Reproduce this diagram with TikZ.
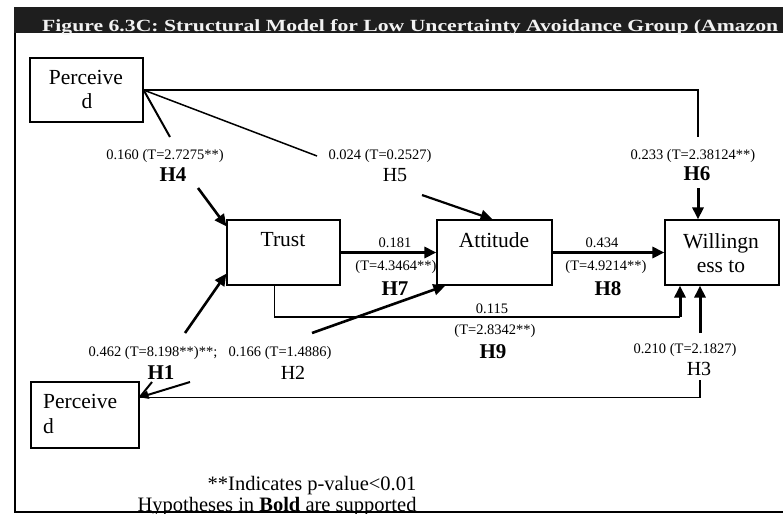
\documentclass[tikz,border=0pt]{standalone}
\usepackage{fontspec}
\setmainfont{Liberation Serif}
\usetikzlibrary{arrows.meta,calc}
\definecolor{barfill}{HTML}{1E1E1E}
\definecolor{bartext}{HTML}{F2F2F2}
\begin{document}
\begin{tikzpicture}[x=1pt,y=-1pt,
  construct/.style={draw,line width=1.2pt,inner sep=0pt},
  boxtext/.style={font=\fontsize{21.5}{24}\selectfont,inner sep=0pt,anchor=base},
  coef/.style={font=\fontsize{14.5}{16}\selectfont,inner sep=0pt,anchor=base},
  hypbold/.style={font=\fontsize{21}{24}\selectfont\bfseries,inner sep=0pt,anchor=base},
  hyp/.style={font=\fontsize{20}{24}\selectfont,inner sep=0pt,anchor=base},
  note/.style={font=\fontsize{20.5}{24}\selectfont,inner sep=0pt,anchor=base},
  link/.style={line width=1.5pt},
  arr/.style={line width=2.6pt,-{Triangle[length=12pt,width=11pt]}},
]
\useasboundingbox (0,0) rectangle (783,517);

% title bar and frame
\fill[barfill] (14,7) rectangle (783,33);
\node[anchor=base west,inner sep=0pt,text=bartext] (title) at (42,31)
  {\resizebox{736pt}{12pt}{\bfseries Figure 6.3C: Structural Model for Low Uncertainty Avoidance Group (Amazon}};
\draw[line width=1.3pt] (15,33) -- (15,512) -- (783,512);

% constructs
\node[construct,minimum width=113pt,minimum height=64pt] (perc1) at (86.5,90) {};
\node[construct,minimum width=108pt,minimum height=66pt] (perc2) at (85,415) {};
\node[construct,minimum width=113pt,minimum height=65pt] (trust) at (283.5,252.5) {};
\node[construct,minimum width=115pt,minimum height=65pt] (att) at (494.5,252.5) {};
\node[construct,minimum width=114pt,minimum height=65pt] (will) at (722,252.5) {};

\node[boxtext] (perc1a) at (86,84) {Perceive};
\node[boxtext] (perc1b) at (87,108) {d};
\node[boxtext,anchor=base west] (perc2a) at (43,408) {Perceive};
\node[boxtext,anchor=base west] (perc2b) at (43,433) {d};
\node[boxtext] (trustT) at (283,246) {Trust};
\node[boxtext] (attT) at (494,247) {Attitude};
\node[boxtext] (willA) at (721,248) {Willingn};
\node[boxtext] (willB) at (721,272) {ess to};

% break points of the paths around their labels
\coordinate (h4top) at (170,137);
\coordinate (h4low) at (198,188);
\coordinate (h5top) at (317,156);
\coordinate (h5low) at (422,195);
\coordinate (h6top) at (698,137);
\coordinate (h6low) at (698,188);
\coordinate (h9a) at ($(trust.south west)+(48,0)$);
\coordinate (h9b) at (680,317);
\coordinate (p2out) at ($(perc2.north east)+(0,16)$);
\coordinate (h3low) at (700,380);
\coordinate (h3up) at (700,333);
\coordinate (h1stub) at (152,382);
\coordinate (h1a) at (185,333);
\coordinate (h2stub) at (190,382);
\coordinate (h2a) at (312,333);

% H4
\draw[link,line width=2pt] (perc1.east) -- (h4top);
\draw[arr] (h4low) -- ($(trust.north west)+(0,7)$);
% H5
\draw[link] (perc1.east) -- (h5top);
\draw[arr,line width=2.2pt] (h5low) -- ($(att.north)+(-2,0)$);
% H6
\draw[link] (perc1.east) -| (h6top);
\draw[arr,line width=3pt] (h6low) -- (h6low |- will.north);
% H7, H8
\draw[arr,line width=3pt] (trust.east) -- (att.west);
\draw[arr,line width=3pt] (att.east) -- (will.west);
% H9
\draw[link] (h9a) |- (h9b);
\draw[arr,line width=3pt] (h9b) -- (h9b |- will.south);
% H3
\draw[link] (p2out) -| (h3low);
\draw[arr,line width=3pt] (h3up) -- (h3up |- will.south);
% H1
\draw[link,line width=2pt] (h1stub) -- (p2out);
\draw[arr] (h1a) -- ($(trust.south west)+(0,-12)$);
% H2
\draw[link,line width=2pt,-{Triangle[length=9pt,width=8pt]}] (h2stub) -- (p2out);
\draw[arr] (h2a) -- ($(att.south west)+(9,0)$);

% path coefficients and hypotheses
\node[coef] (c4) at (165,159) {0.160 (T=2.7275**)};
\node[hypbold] (hy4) at (173,181) {H4};
\node[coef] (c5) at (380,159) {0.024 (T=0.2527)};
\node[hyp] (hy5) at (395,181) {H5};
\node[coef] (c6) at (693,159) {0.233 (T=2.38124**)};
\node[hypbold] (hy6) at (697,180) {H6};
\node[coef] (c7a) at (395,247) {0.181};
\node[coef] (c7b) at (396,270) {(T=4.3464**)};
\node[hypbold] (hy7) at (395,295) {H7};
\node[coef] (c8a) at (602,247) {0.434};
\node[coef] (c8b) at (606,270) {(T=4.9214**)};
\node[hypbold] (hy8) at (608,295) {H8};
\node[coef] (c9a) at (492,313) {0.115};
\node[coef] (c9b) at (495,334) {(T=2.8342**)};
\node[hypbold] (hy9) at (493,358) {H9};
\node[coef] (c1) at (153,356) {0.462 (T=8.198**)**;};
\node[hypbold] (hy1) at (161,379) {H1};
\node[coef] (c2) at (280,356) {0.166 (T=1.4886)};
\node[hyp] (hy2) at (293,379) {H2};
\node[coef] (c3) at (685,353) {0.210 (T=2.1827)};
\node[hyp] (hy3) at (699,375) {H3};

% notes
\node[note] (note1) at (312,490) {**Indicates p-value<0.01};
\begin{scope}
  \clip (0,0) rectangle (783,513);
  \node[note] (note2) at (277,511) {Hypotheses in \textbf{Bold} are supported};
\end{scope}
\end{tikzpicture}
\end{document}
